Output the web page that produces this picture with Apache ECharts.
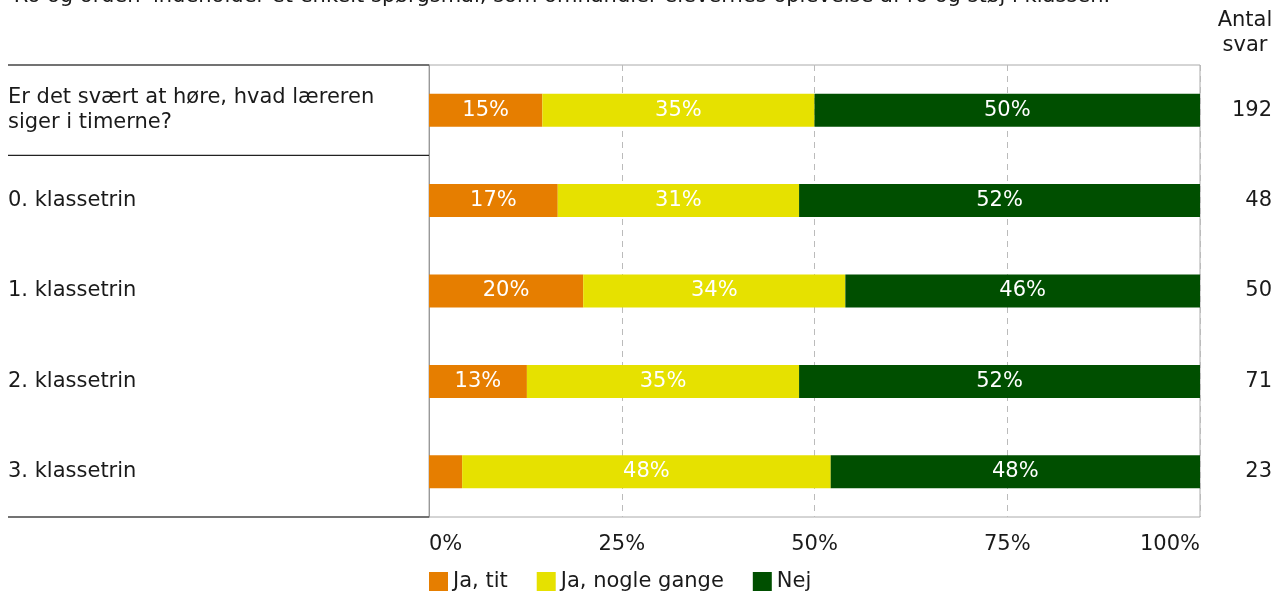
<!DOCTYPE html>
<html>
<head>
<meta charset="utf-8">
<script src="https://cdn.jsdelivr.net/npm/echarts@6/dist/echarts.min.js"></script>
<style>html,body{margin:0;padding:0;background:#fff}#c{width:1287px;height:598px}</style>
</head>
<body>
<div id="c"></div>
<script>
const titleText = "'Ro og orden' indeholder et enkelt spørgsmål, som omhandler elevernes oplevelse af ro og støj i klassen.";
const categories = ["Er det svært at høre, hvad læreren siger i timerne?", "0. klassetrin", "1. klassetrin", "2. klassetrin", "3. klassetrin"];
const counts = ["192", "48", "50", "71", "23"];
const seriesNames = ["Ja, tit", "Ja, nogle gange", "Nej"];
const jaTit = [14.7, 16.7, 20.0, 12.7, 4.3];
const jaNogle = [35.3, 31.3, 34.0, 35.3, 47.8];
const nej = [50.0, 52.0, 46.0, 52.0, 47.9];
const xTicks = ["0%", "25%", "50%", "75%", "100%"];
const colors = ["#e67e00", "#e6e100", "#004f00"];

const FONT = "DejaVu Sans";
const FS = 21;
const chart = echarts.init(document.getElementById('c'), null, {renderer: 'canvas'});
const gridL = 429, gridR = 87, gridT = 65, gridB = 81;
const W = 1287, H = 598;
const rowH = (H - gridT - gridB) / categories.length;

function wrap(s, maxChars) {
  const words = s.split(' ');
  const lines = [];
  let cur = '';
  words.forEach(w => {
    if (cur && (cur + ' ' + w).length > maxChars) { lines.push(cur); cur = w; }
    else cur = cur ? cur + ' ' + w : w;
  });
  if (cur) lines.push(cur);
  return lines.join('\n');
}

function mk(name, data, i) {
  return {
    name: name, type: 'bar', stack: 'all', data: data, barWidth: 33,
    itemStyle: {color: colors[i]},
    label: {
      show: true, position: 'inside', color: '#fff', fontFamily: FONT, fontSize: FS,
      formatter: p => p.value < 6 ? '' : Math.round(p.value) + '%'
    },
    emphasis: {disabled: true}
  };
}

chart.setOption({
  animation: false,
  textStyle: {fontFamily: FONT},
  title: {
    text: titleText, left: 3, top: -19,
    textStyle: {fontFamily: FONT, fontSize: FS, fontWeight: 'normal', color: '#1a1a1a'}
  },
  legend: {
    data: seriesNames, left: 424, top: 566, itemWidth: 19, itemHeight: 19, itemGap: 29,
    icon: 'rect', textStyle: {fontFamily: FONT, fontSize: FS, color: '#1a1a1a'}
  },
  grid: {left: gridL, right: gridR, top: gridT, bottom: gridB, show: true, borderColor: '#aaaaaa', borderWidth: 1},
  xAxis: {
    type: 'value', min: 0, max: 100, interval: 25,
    axisLine: {show: false}, axisTick: {show: false},
    splitLine: {show: true, lineStyle: {color: '#bbbbbb', type: [6, 5], width: 1}},
    axisLabel: {
      formatter: v => xTicks[v / 25], fontFamily: FONT, fontSize: FS, color: '#1a1a1a', margin: 17,
      alignMinLabel: 'left', alignMaxLabel: 'right'
    }
  },
  yAxis: [{
    type: 'category', data: categories, inverse: true,
    axisLine: {show: true, lineStyle: {color: '#999999'}}, axisTick: {show: false},
    axisLabel: {
      align: 'left', margin: gridL - 8, fontFamily: FONT, fontSize: FS, color: '#1a1a1a',
      lineHeight: 25, formatter: v => wrap(v, 34)
    }
  }, {
    type: 'category', data: counts, inverse: true, position: 'right',
    axisLine: {show: false}, axisTick: {show: false},
    axisLabel: {align: 'right', margin: 72, fontFamily: FONT, fontSize: FS, color: '#1a1a1a'}
  }],
  graphic: [
    {type: 'text', x: 1245, y: 8, style: {text: 'Antal\nsvar', align: 'center', fontFamily: FONT, fontSize: FS, lineHeight: 25, fill: '#1a1a1a'}},
    {type: 'line', shape: {x1: 8, y1: gridT, x2: gridL, y2: gridT}, style: {stroke: '#444', lineWidth: 1.5}},
    {type: 'line', shape: {x1: 8, y1: gridT + rowH, x2: gridL, y2: gridT + rowH}, style: {stroke: '#222', lineWidth: 1.2}},
    {type: 'line', shape: {x1: 8, y1: H - gridB, x2: gridL, y2: H - gridB}, style: {stroke: '#444', lineWidth: 1.5}}
  ],
  series: [mk(seriesNames[0], jaTit, 0), mk(seriesNames[1], jaNogle, 1), mk(seriesNames[2], nej, 2)]
});
</script>
</body>
</html>
